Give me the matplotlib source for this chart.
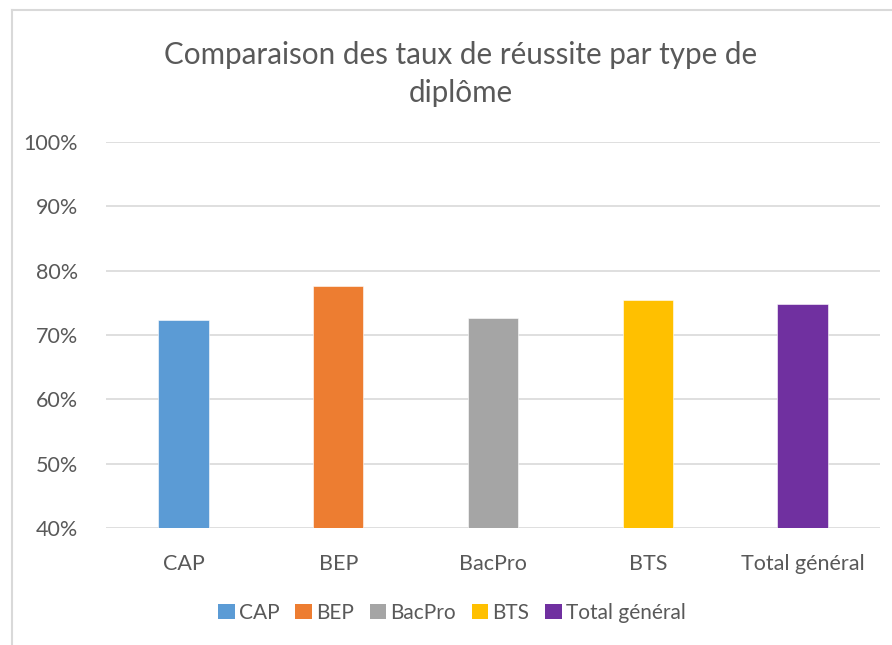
import matplotlib

matplotlib.use("Agg")
import matplotlib.pyplot as plt
from matplotlib.lines import Line2D
from matplotlib.patches import Patch
from matplotlib.ticker import FuncFormatter

# Data
categories = ["CAP", "BEP", "BacPro", "BTS", "Total général"]
taux = [0.724, 0.776, 0.726, 0.754, 0.748]
colors = ["#5B9BD5", "#ED7D31", "#A5A5A5", "#FFC000", "#7030A0"]
y_ticks = [0.4, 0.5, 0.6, 0.7, 0.8, 0.9, 1.0]

TEXT = "#595959"
GRID = "#D9D9D9"

plt.rcParams["font.family"] = ["Lato", "DejaVu Sans"]

fig = plt.figure(figsize=(8.92, 6.45), dpi=100)
ax = fig.add_axes([106 / 892, 1 - 528 / 645, 774 / 892, 386 / 645])

x = list(range(len(categories)))
ax.bar(x, taux, width=0.325, color=colors, edgecolor="white", linewidth=0.4, zorder=3)

ax.set_xlim(-0.5, len(categories) - 0.5)
ax.set_ylim(0.4, 1.0)
ax.set_yticks(y_ticks)
ax.yaxis.set_major_formatter(FuncFormatter(lambda v, _: f"{v * 100:.0f}%"))
ax.set_xticks(x)
ax.set_xticklabels(categories)
ax.grid(axis="y", color=GRID, linewidth=1.2, zorder=0)
for s in ax.spines.values():
    s.set_visible(False)
ax.tick_params(length=0, labelsize=15.5, colors=TEXT)
ax.tick_params(axis="y", pad=20)
ax.tick_params(axis="x", pad=19)

fig.text(461 / 892, 1 - 74 / 645, "Comparaison des taux de réussite par type de\ndiplôme",
         ha="center", va="center", fontsize=21.3, color=TEXT, linespacing=1.45)

handles = [Patch(facecolor=c, edgecolor="none") for c in colors]
fig.legend(handles, categories, loc="center", bbox_to_anchor=(452 / 892, 1 - 613 / 645),
           ncol=5, frameon=False, fontsize=15, labelcolor=TEXT,
           handlelength=0.8, handleheight=0.75, handletextpad=0.2, columnspacing=0.75)

# chart area border (only left and top edges visible in the crop)
fig.add_artist(Line2D([12 / 892, 12 / 892], [0, 1 - 10 / 645], color=GRID, linewidth=1.5,
                      transform=fig.transFigure))
fig.add_artist(Line2D([12 / 892, 1], [1 - 10 / 645, 1 - 10 / 645], color=GRID, linewidth=1.5,
                      transform=fig.transFigure))

fig.savefig("out.png", dpi=100)
plt.close(fig)
